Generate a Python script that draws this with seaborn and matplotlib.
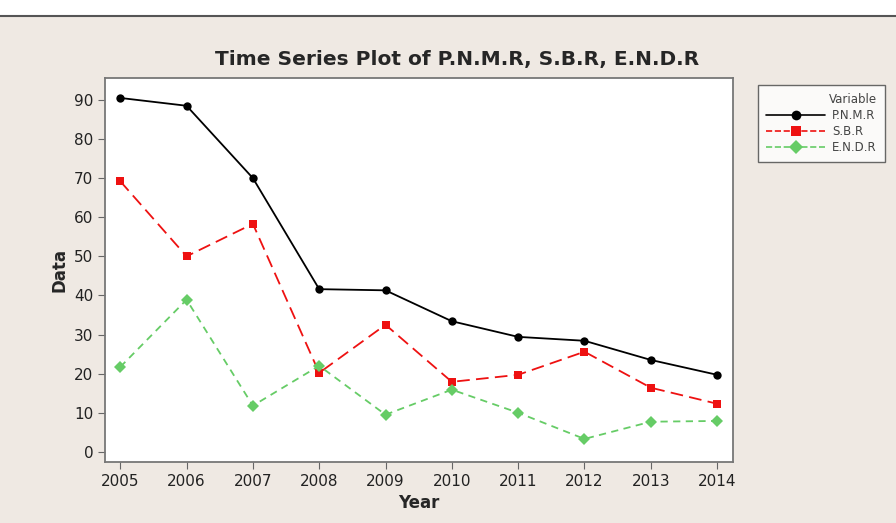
import pandas as pd
import seaborn as sns
import matplotlib.pyplot as plt
from matplotlib.patches import Rectangle
from matplotlib.lines import Line2D

# data
years = [2005, 2006, 2007, 2008, 2009, 2010, 2011, 2012, 2013, 2014]
pnmr = [90.5, 88.5, 70.0, 41.6, 41.3, 33.4, 29.4, 28.4, 23.5, 19.7]
sbr = [69.2, 50.0, 58.3, 20.2, 32.5, 17.9, 19.7, 25.6, 16.4, 12.3]
endr = [21.7, 38.9, 11.8, 22.0, 9.5, 15.9, 10.0, 3.3, 7.7, 7.9]
names = ["P.N.M.R", "S.B.R", "E.N.D.R"]

df = pd.DataFrame({"Year": years * 3,
                   "Data": pnmr + sbr + endr,
                   "Variable": [n for n in names for _ in years]})

colors = {"P.N.M.R": "black", "S.B.R": "#ee1111", "E.N.D.R": "#66cc66"}
markers = {"P.N.M.R": "o", "S.B.R": "s", "E.N.D.R": "D"}
dashes = {"P.N.M.R": "", "S.B.R": (7, 3.5), "E.N.D.R": (4, 3)}

bg = "#efe9e3"
sns.set_style("ticks")
plt.rcParams["font.family"] = ["DejaVu Sans"]

fig = plt.figure(figsize=(8.96, 5.23), dpi=100, facecolor=bg)
# white strip at the top of the window
fig.add_artist(Rectangle((0, 1 - 16 / 523), 1, 16 / 523, transform=fig.transFigure,
                         facecolor="white", edgecolor="none"))
fig.add_artist(Line2D([0, 1], [1 - 16 / 523] * 2, transform=fig.transFigure,
                      color="#555555", lw=1.5))

ax = fig.add_axes([105 / 896, 1 - 462 / 523, 628 / 896, 384 / 523])
ax.set_facecolor("white")

sns.lineplot(data=df, x="Year", y="Data", hue="Variable", style="Variable",
             palette=colors, markers=markers, dashes=dashes, markersize=6,
             markeredgewidth=0, linewidth=1.3, ax=ax, legend=False)

ax.set_xlim(2004.77, 2014.24)
ax.set_ylim(-2.6, 95.6)
ax.set_xticks(years)
ax.set_yticks(range(0, 91, 10))
ax.tick_params(direction="out", length=5, color="#666666", labelsize=11, labelcolor="#222222")
for s in ax.spines.values():
    s.set_color("#777777")
    s.set_linewidth(1.3)

ax.set_title("Time Series Plot of P.N.M.R, S.B.R, E.N.D.R", fontsize=14.5,
             fontweight="bold", pad=9, x=0.56)
ax.set_xlabel("Year", fontsize=12, fontweight="bold")
ax.set_ylabel("Data", fontsize=12, fontweight="bold")

handles = [Line2D([], [], color=colors[n], marker=markers[n], markersize=7,
                  markeredgewidth=0, lw=1.2,
                  linestyle="-" if n == "P.N.M.R" else "--") for n in names]
leg = fig.legend(handles, names, title="Variable", loc="upper left",
                 bbox_to_anchor=(752 / 896, 1 - 79 / 523), fontsize=8.5,
                 title_fontsize=8.5, frameon=True, fancybox=False,
                 handlelength=5, borderpad=0.7, labelspacing=0.25,
                 handletextpad=0.6)
leg._legend_box.align = "right"
for t in leg.get_texts():
    t.set_color("#444444")
leg.get_title().set_color("#444444")
leg.get_frame().set_edgecolor("#444444")
leg.get_frame().set_facecolor("white")
leg.get_frame().set_linewidth(1.0)

fig.savefig("out.png", dpi=100, facecolor=bg)
